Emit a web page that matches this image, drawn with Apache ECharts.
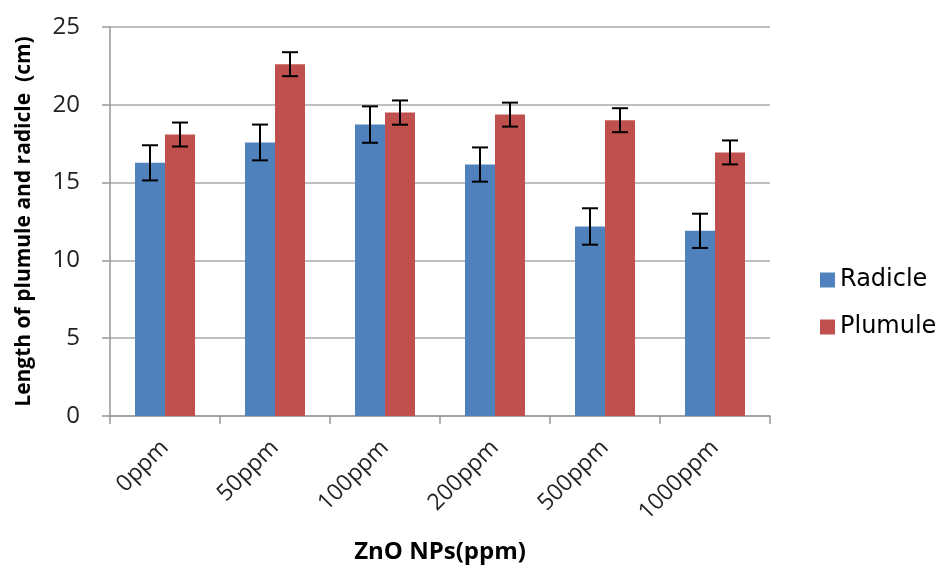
<!DOCTYPE html>
<html>
<head>
<meta charset="utf-8">
<script src="https://cdn.jsdelivr.net/npm/echarts@6/dist/echarts.min.js"></script>
<style>html,body{margin:0;padding:0;background:#fff}#c{width:945px;height:568px}</style>
</head>
<body>
<div id="c"></div>
<script>
var categories = ['0ppm', '50ppm', '100ppm', '200ppm', '500ppm', '1000ppm'];
var radicle = [16.27, 17.58, 18.73, 16.16, 12.18, 11.9];
var plumule = [18.09, 22.61, 19.5, 19.37, 19.01, 16.94];
var radicleErr = [1.13, 1.15, 1.17, 1.1, 1.17, 1.1];
var plumuleErr = [0.77, 0.77, 0.78, 0.77, 0.77, 0.77];
var yTicks = [0, 5, 10, 15, 20, 25];

var BAR_W = 30;
function errSeries(name, vals, errs, side) {
  return {
    type: 'custom', name: name + ' err', silent: true, z: 10,
    data: vals.map(function (v, i) { return [i, v - errs[i], v + errs[i]]; }),
    renderItem: function (params, api) {
      var lo = api.coord([api.value(0), api.value(1)]);
      var hi = api.coord([api.value(0), api.value(2)]);
      var x = lo[0] + side * BAR_W / 2;
      var cw = 8;
      var st = { stroke: '#000', lineWidth: 2 };
      return { type: 'group', children: [
        { type: 'line', shape: { x1: x, y1: lo[1], x2: x, y2: hi[1] }, style: st },
        { type: 'line', shape: { x1: x - cw, y1: lo[1], x2: x + cw, y2: lo[1] }, style: st },
        { type: 'line', shape: { x1: x - cw, y1: hi[1], x2: x + cw, y2: hi[1] }, style: st }
      ]};
    }
  };
}

var chart = echarts.init(document.getElementById('c'));
chart.setOption({
  animation: false,
  textStyle: { fontFamily: 'Open Sans' },
  grid: { left: 110, right: 175, top: 27, bottom: 152, outerBoundsMode: 'none', containLabel: false },
  legend: {
    orient: 'vertical', left: 815, top: 263, itemGap: 23,
    itemWidth: 15, itemHeight: 15, icon: 'rect',
    textStyle: { fontSize: 24, color: '#000', fontFamily: 'DejaVu Sans' },
    data: ['Radicle', 'Plumule']
  },
  xAxis: {
    type: 'category', data: categories,
    name: 'ZnO NPs(ppm)', nameLocation: 'middle', nameGap: 124,
    nameTextStyle: { fontSize: 24, fontWeight: 'bold', color: '#000' },
    axisLine: { lineStyle: { color: '#999', width: 1.5 } },
    axisTick: { show: true, length: 8, lineStyle: { color: '#999', width: 1.5 } },
    axisLabel: { rotate: 45, fontSize: 23, color: '#222', margin: 28 }
  },
  yAxis: {
    type: 'value', min: 0, max: 25, interval: 5,
    name: 'Length of plumule and radicle  (cm)', nameLocation: 'middle', nameGap: 75,
    nameTextStyle: { fontSize: 21, fontWeight: 'bold', color: '#000' },
    axisLine: { show: true, lineStyle: { color: '#999', width: 1.5 } },
    axisTick: { show: true, length: 8, inside: false, lineStyle: { color: '#999', width: 1.5 } },
    axisLabel: { fontSize: 24, color: '#222', margin: 30,
      formatter: function (v) { return yTicks.indexOf(v) >= 0 ? String(v) : ''; } },
    splitLine: { lineStyle: { color: '#aaa', width: 1.5 } }
  },
  series: [
    { name: 'Radicle', type: 'bar', data: radicle, barWidth: BAR_W, barGap: '0%',
      itemStyle: { color: '#4F81BD' } },
    { name: 'Plumule', type: 'bar', data: plumule, barWidth: BAR_W, barGap: '0%',
      itemStyle: { color: '#C0504D' } },
    errSeries('Radicle', radicle, radicleErr, -1),
    errSeries('Plumule', plumule, plumuleErr, 1)
  ]
});
</script>
</body>
</html>
